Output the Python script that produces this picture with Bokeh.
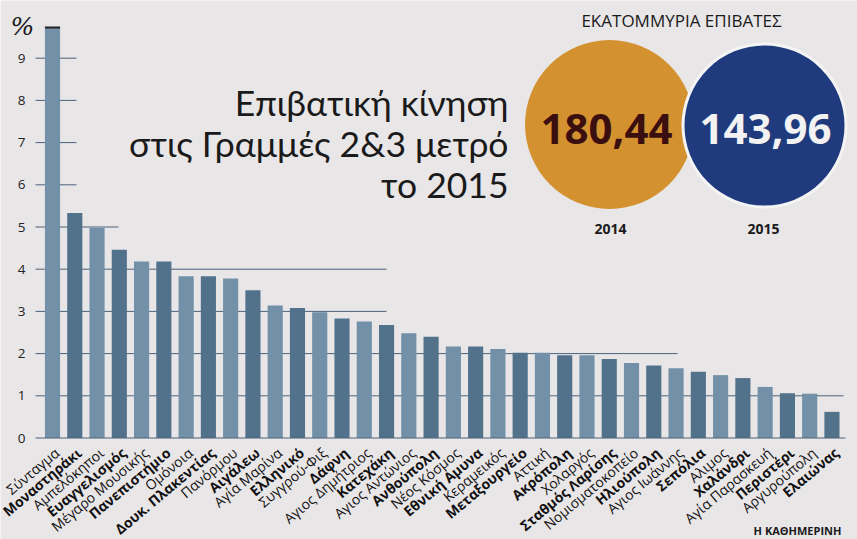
from bokeh.plotting import figure
from bokeh.models import Range1d, ColumnDataSource
from bokeh.embed import file_html
from bokeh.resources import INLINE
from bokeh.core.properties import value
import math

# ---------------- data ----------------
stations = [
    "Σύνταγμα", "Μοναστηράκι", "Αμπελόκηποι", "Ευαγγελισμός", "Μέγαρο Μουσικής",
    "Πανεπιστήμιο", "Ομόνοια", "Δουκ. Πλακεντίας", "Πανόρμου", "Αιγάλεω",
    "Αγία Μαρίνα", "Ελληνικό", "Συγγρού-Φιξ", "Δάφνη", "Αγιος Δημήτριος",
    "Κατεχάκη", "Αγιος Αντώνιος", "Ανθούπολη", "Νέος Κόσμος", "Εθνική Αμυνα",
    "Κεραμεικός", "Μεταξουργείο", "Αττική", "Ακρόπολη", "Χολαργός",
    "Σταθμός Λαρίσης", "Νομισματοκοπείο", "Ηλιούπολη", "Αγιος Ιωάννης", "Σεπόλια",
    "Αλιμος", "Χαλάνδρι", "Αγία Παρασκευή", "Περιστέρι", "Αργυρούπολη", "Ελαιώνας",
]
share_pct = [
    9.73, 5.33, 4.98, 4.46, 4.18,
    4.18, 3.83, 3.83, 3.78, 3.50,
    3.14, 3.08, 2.98, 2.83, 2.76,
    2.68, 2.48, 2.40, 2.17, 2.17,
    2.11, 2.02, 2.02, 1.96, 1.96,
    1.87, 1.78, 1.72, 1.65, 1.57,
    1.49, 1.42, 1.21, 1.06, 1.05, 0.62,
]
y_ticks = [0, 1, 2, 3, 4, 5, 6, 7, 8, 9]
years = ["2014", "2015"]
passengers_mn = ["180,44", "143,96"]
title_lines = ["Επιβατική κίνηση", "στις Γραμμές 2&3 μετρό", "το 2015"]

# ---------------- layout helpers ----------------
W, H = 857, 539
PXX, PXY = 22.27, 42.2      # px per unit
XS = -52 / PXX
XE = XS + W / PXX
YE = 437.5 / PXY
YS = YE - H / PXY

def dx(px):  # picture x -> data x
    return XS + px / PXX

def dy(py):  # picture y -> data y
    return YE - py / PXY

BG = "#e9e6e8"
p = figure(width=W, height=H, output_backend="svg", toolbar_location=None,
           x_range=Range1d(XS, XE), y_range=Range1d(YS, YE),
           x_axis_location=None, y_axis_location=None,
           min_border_left=0, min_border_right=0, min_border_top=0, min_border_bottom=0,
           background_fill_color=BG, border_fill_color=BG, outline_line_color=None)
p.grid.visible = False

# y tick labels, placed through the y scale
p.text(x=[dx(25)] * len(y_ticks), y=y_ticks, text=[str(t) for t in y_ticks],
       text_align="right", text_baseline="middle", text_font=value("Open Sans"),
       text_font_size="13.5px", text_color="#222222")

# partial gridlines (styling: how far each level line runs)
grid_end = {9: 76, 8: 76, 7: 76, 6: 76, 5: 118, 4: 386, 3: 386, 2: 677, 1: 843}
g_lv = [lv for lv in y_ticks if lv > 0]
p.segment(x0=[dx(35)] * len(g_lv), x1=[dx(grid_end[lv]) for lv in g_lv],
          y0=g_lv, y1=g_lv, line_color="#4a6379", line_width=1)

# bars
n = len(stations)
xs = list(range(n))
colors = ["#7290a8" if i % 2 == 0 else "#52728c" for i in range(n)]
src = ColumnDataSource(dict(x=xs, top=share_pct, color=colors))
p.vbar(x="x", top="top", bottom=0, width=0.68, fill_color="color", line_color=None, source=src)
# dark cap on first bar
p.segment(x0=[-0.34], x1=[0.34], y0=[share_pct[0]], y1=[share_pct[0]], line_color="#222222", line_width=2)

# baseline
p.segment(x0=[dx(35)], x1=[dx(845)], y0=[0], y1=[0], line_color="#4a6379", line_width=1)

# rotated station labels (alternating normal / bold)
styles = ["normal" if i % 2 == 0 else "bold" for i in xs]
lsrc = ColumnDataSource(dict(x=[i + 0.2 for i in xs], y=[dy(450)] * n, t=stations, st=styles))
p.text(x="x", y="y", text="t", source=lsrc, angle=math.radians(40), text_align="right",
       text_baseline="middle", text_font=value("Open Sans"), text_font_size="14px",
       text_font_style="st", text_color="#111111")

# % sign
p.text(x=[dx(22)], y=[dy(26)], text=["%"], text_align="center", text_baseline="middle",
       text_font=value("DejaVu Serif"), text_font_size="25px", text_font_style="italic",
       text_color="#1a1a1a")

# title
for k, line in enumerate(title_lines):
    p.text(x=[dx(508)], y=[dy(102 + 41 * k)], text=[line], text_align="right",
           text_baseline="alphabetic", text_font=value("Lato"), text_font_size="35.5px",
           text_color="#1a1a1a")

# circles
p.scatter(x=[dx(609)], y=[dy(124)], size=169, marker="circle",
          fill_color="#d3922f", line_color=None)
p.scatter(x=[dx(764)], y=[dy(125)], size=163, marker="circle",
          fill_color="#1f3b7d", line_color="#f4f4f4", line_width=3)
p.text(x=[dx(606), dx(765)], y=[dy(128), dy(128)], text=passengers_mn,
       text_align="center", text_baseline="middle", text_font=value("Open Sans"),
       text_font_size="42px", text_font_style="bold", text_color=["#3b0f10", "#f2f2f2"])
p.text(x=[dx(610), dx(763)], y=[dy(228), dy(228)], text=years,
       text_align="center", text_baseline="middle", text_font=value("Open Sans"),
       text_font_size="14px", text_font_style="bold", text_color="#1a1a1a")
p.text(x=[dx(681)], y=[dy(20)], text=["ΕΚΑΤΟΜΜΥΡΙΑ ΕΠΙΒΑΤΕΣ"], text_align="center",
       text_baseline="middle", text_font=value("Open Sans"), text_font_size="17px",
       text_color="#1a1a1a")
p.text(x=[dx(797)], y=[dy(530)], text=["Η ΚΑΘΗΜΕΡΙΝΗ"], text_align="center",
       text_baseline="middle", text_font=value("Open Sans"), text_font_size="11px",
       text_font_style="bold", text_color="#1a1a1a")

open("out.html", "w").write(file_html(p, INLINE))
